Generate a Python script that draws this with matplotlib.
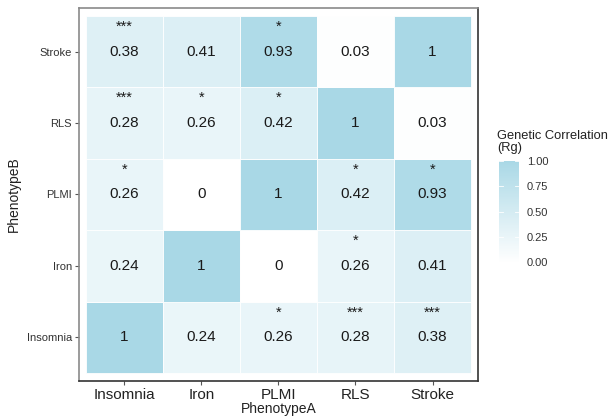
import numpy as np
import matplotlib
matplotlib.use("Agg")
import matplotlib.pyplot as plt
from matplotlib.colors import LinearSegmentedColormap, Normalize
from matplotlib.patches import Rectangle

plt.rcParams["font.family"] = ["Liberation Sans", "DejaVu Sans"]

phenotypes = ["Insomnia", "Iron", "PLMI", "RLS", "Stroke"]

# rows = PhenotypeB (bottom to top), cols = PhenotypeA
rg = [
    [1, 0.24, 0.26, 0.28, 0.38],     # Insomnia
    [0.24, 1, 0, 0.26, 0.41],        # Iron
    [0.26, 0, 1, 0.42, 0.93],        # PLMI
    [0.28, 0.26, 0.42, 1, 0.03],     # RLS
    [0.38, 0.41, 0.93, 0.03, 1],     # Stroke
]
stars = [
    ["", "", "*", "***", "***"],
    ["", "", "", "*", ""],
    ["*", "", "", "*", "*"],
    ["***", "*", "*", "", ""],
    ["***", "", "*", "", ""],
]
cbar_ticks = [0.00, 0.25, 0.50, 0.75, 1.00]

cmap = LinearSegmentedColormap.from_list("rg", ["#ffffff", "#a9d8e6"])
norm = Normalize(0, 1)

fig = plt.figure(figsize=(6.16, 4.18), dpi=100)
ax = fig.add_axes([0.128, 0.0885, 0.648, 0.8925])

for i, row in enumerate(rg):
    for j, v in enumerate(row):
        ax.add_patch(Rectangle((j - 0.5, i - 0.5), 1, 1, facecolor=cmap(norm(v)),
                               edgecolor="white", linewidth=0.6))
        ax.text(j, i, f"{v:g}", ha="center", va="center", fontsize=11, color="#1a1a1a")
        if stars[i][j]:
            ax.text(j, i + 0.29, stars[i][j], ha="center", va="baseline",
                    fontsize=10.5, color="#1a1a1a")

ax.set_xlim(-0.59, 4.59)
ax.set_ylim(-0.61, 4.61)
ax.set_xticks(range(len(phenotypes)))
ax.set_xticklabels(phenotypes, fontsize=11, color="#222222")
ax.set_yticks(range(len(phenotypes)))
ax.set_yticklabels(phenotypes, fontsize=8, color="#333333")
ax.tick_params(length=3, width=0.8, color="#555555", pad=2)
ax.set_xlabel("PhenotypeA", fontsize=10, color="#222222", labelpad=0)
ax.set_ylabel("PhenotypeB", fontsize=10, color="#222222", labelpad=4)

for side in ["left", "top"]:
    ax.spines[side].set_color("#8a8a8a")
for side in ["right", "bottom"]:
    ax.spines[side].set_color("#333333")
for s in ax.spines.values():
    s.set_linewidth(1.2)

# colour bar legend
cax = fig.add_axes([0.810, 0.373, 0.032, 0.242])
grad = np.linspace(0, 1, 256).reshape(-1, 1)
cax.imshow(grad, aspect="auto", cmap=cmap, norm=norm, origin="lower", extent=(0, 1, 0, 1))
for t in cbar_ticks:
    cax.plot([0, 0.2], [t, t], color="white", lw=0.6)
    cax.plot([0.8, 1], [t, t], color="white", lw=0.6)
cax.set_xlim(0, 1)
cax.set_ylim(0, 1)
cax.set_xticks([])
cax.yaxis.tick_right()
cax.set_yticks(cbar_ticks)
cax.set_yticklabels([f"{t:.2f}" for t in cbar_ticks], fontsize=8, color="#333333")
cax.tick_params(axis="y", length=0, pad=6)
for s in cax.spines.values():
    s.set_visible(False)
fig.text(0.807, 0.632, "Genetic Correlation\n(Rg)", fontsize=9.3, color="#222222",
         ha="left", va="bottom", linespacing=1.0)

fig.savefig("out.png", dpi=100)
